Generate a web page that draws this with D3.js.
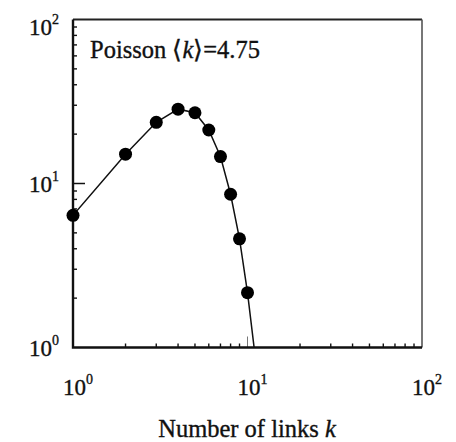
<!DOCTYPE html>
<html>
<head>
<meta charset="utf-8">
<script src="https://cdn.jsdelivr.net/npm/d3@7"></script>
<style>
  html, body { margin: 0; padding: 0; background: #fff; }
  svg { display: block; font-family: "Liberation Serif", "Times New Roman", serif; }
  svg text { stroke: #111; stroke-width: 0.35px; }
</style>
</head>
<body>
<svg id="chart" width="456" height="442"></svg>
<script>
// Degree distribution of a random network: number of nodes with k links
const links = [1, 2, 3, 4, 5, 6, 7, 8, 9, 10, 11];
const nodeCounts = [6.4, 15.1, 23.6, 28.4, 27.0, 21.2, 14.6, 8.6, 4.6, 2.16, 0.93];
const markerLinks = [1, 2, 3, 4, 5, 6, 7, 8, 9, 10];
const decadeExponents = [0, 1, 2];
const annotationMean = "4.75";
const xTitle = "Number of links ";

const svg = d3.select("#chart");
const margin = { left: 73, top: 19.5, right: 34, bottom: 94.5 };
const W = 456, H = 442;
const x0 = margin.left, x1 = W - margin.right;
const y0 = H - margin.bottom, y1 = margin.top;

const x = d3.scaleLog().domain([1, 100]).range([x0, x1]);
const y = d3.scaleLog().domain([1, 100]).range([y0, y1]);

// clip everything that falls outside the frame
svg.append("defs").append("clipPath").attr("id", "plotClip")
  .append("rect").attr("x", x0).attr("y", y1).attr("width", x1 - x0).attr("height", y0 - y1);

// minor ticks (inward, left and bottom only)
const majors = decadeExponents.map(e => 10 ** e);
const minor = d3.range(2, 100).filter(v => !majors.includes(v) && (v < 10 || v % 10 === 0));
const ticks = svg.append("g").attr("stroke", "#111");
ticks.selectAll(".mx").data(minor).join("line")
  .attr("x1", d => x(d)).attr("x2", d => x(d))
  .attr("y1", y0).attr("y2", y0 - 4).attr("stroke-width", 1.4);
ticks.selectAll(".my").data(minor).join("line")
  .attr("y1", d => y(d)).attr("y2", d => y(d))
  .attr("x1", x0).attr("x2", x0 + 4).attr("stroke-width", 1.4);
// major ticks at the middle decade
ticks.append("line").attr("x1", x(10)).attr("x2", x(10)).attr("y1", y0).attr("y2", y0 - 11)
  .attr("stroke-width", 1).attr("stroke", "#777");
ticks.append("line").attr("y1", y(10)).attr("y2", y(10)).attr("x1", x0).attr("x2", x0 + 12)
  .attr("stroke-width", 1.5);

// frame
svg.append("path")
  .attr("d", `M${x0},${y1}H${x1}`).attr("stroke", "#222").attr("stroke-width", 2);
svg.append("path")
  .attr("d", `M${x1},${y1}V${y0}`).attr("stroke", "#555").attr("stroke-width", 1.6);
svg.append("path")
  .attr("d", `M${x0},${y1}V${y0}H${x1}`).attr("fill", "none").attr("stroke", "#111").attr("stroke-width", 2.4);

// data
const data = links.map((k, i) => ({ k, n: nodeCounts[i] }));
const plot = svg.append("g").attr("clip-path", "url(#plotClip)");
plot.append("path").datum(data)
  .attr("fill", "none").attr("stroke", "#111").attr("stroke-width", 1.5)
  .attr("d", d3.line().x(d => x(d.k)).y(d => y(d.n)));
svg.append("g").selectAll("circle").data(data.filter(d => markerLinks.includes(d.k))).join("circle")
  .attr("cx", d => x(d.k)).attr("cy", d => y(d.n)).attr("r", 6.5).attr("fill", "#000");

// tick labels 10^n
function powerLabel(g, e, px, py, anchor) {
  const t = g.append("text").attr("x", px).attr("y", py).attr("text-anchor", anchor)
    .attr("font-size", 23).attr("fill", "#111");
  t.append("tspan").text("10");
  t.append("tspan").attr("dy", -11).attr("font-size", 14).text(String(e));
}
const labels = svg.append("g");
decadeExponents.forEach(e => {
  powerLabel(labels, e, x(10 ** e) + 5, 395, "middle");
  powerLabel(labels, e, x0 - 14, Math.max(y(10 ** e), 27) + 8, "end");
});

// annotation
const ann = svg.append("text").attr("x", 90).attr("y", 58).attr("font-size", 24.5).attr("fill", "#111");
ann.append("tspan").text("Poisson \u27E8");
ann.append("tspan").attr("font-style", "italic").text("k");
ann.append("tspan").text("\u27E9=" + annotationMean);

// axis title
const title = svg.append("text").attr("x", 247).attr("y", 437).attr("text-anchor", "middle")
  .attr("font-size", 24.5).attr("fill", "#111");
title.append("tspan").text(xTitle);
title.append("tspan").attr("font-style", "italic").text("k");
</script>
</body>
</html>
